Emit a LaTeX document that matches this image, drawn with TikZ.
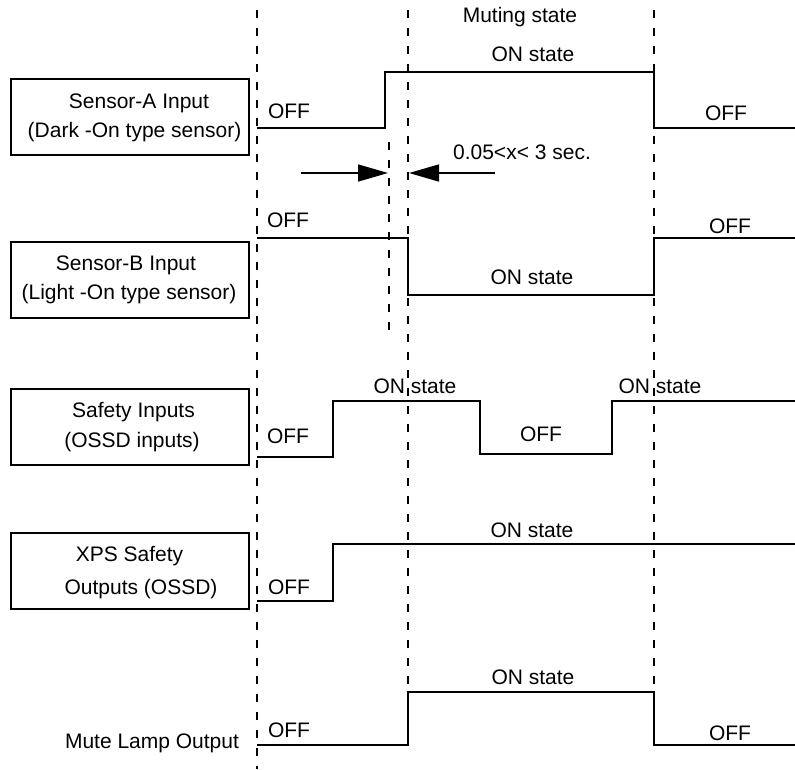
\documentclass[tikz,border=0pt]{standalone}
\usepackage{fontspec}
\setmainfont{Liberation Sans}
\usetikzlibrary{arrows.meta}
\begin{document}
\begin{tikzpicture}[x=1pt,y=-1pt,
  txt/.style={font=\fontsize{21}{25}\selectfont, inner sep=0pt, anchor=base},
  sig/.style={line width=2pt, line join=miter},
  guide/.style={line width=2pt, dash pattern=on 8pt off 10pt},
  lbox/.style={draw, line width=2pt, minimum width=238pt, minimum height=76pt, inner sep=0pt},
  arr/.style={line width=1.5pt, -{Triangle[length=30pt,width=17pt]}}]
\useasboundingbox (0,0) rectangle (795,769);

% guide lines
\draw[guide] (257,10) -- (257,769);
\draw[guide] (408,10) -- (408,692);
\draw[guide] (654,10) -- (654,692);
\draw[guide] (389,142) -- (389,338);

% label boxes
\node[lbox] (boxA) at (130,117) {};
\node[lbox] (boxB) at (130,280) {};
\node[lbox] (boxS) at (130,427) {};
\node[lbox] (boxX) at (130,570.5) {};

\node[txt] (tA1) at (139,108) {Sensor-A Input};
\node[txt] (tA2) at (134.5,137) {(Dark -On type sensor)};
\node[txt] (tB1) at (126,270) {Sensor-B Input};
\node[txt] (tB2) at (129,299) {(Light -On type sensor)};
\node[txt] (tS1) at (133.5,417) {Safety Inputs};
\node[txt] (tS2) at (132,447) {(OSSD inputs)};
\node[txt] (tX1) at (129.5,561) {XPS Safety};
\node[txt] (tX2) at (141,594) {Outputs (OSSD)};
\node[txt] (tM) at (152,748) {Mute Lamp Output};

\node[txt] (mute) at (520,22) {Muting state};

% Sensor-A
\draw[sig] (257,128) -- (385,128) -- (385,72) -- (654,72) -- (654,128) -- (795,128);
\node[txt] (a1) at (289,118) {OFF};
\node[txt] (a2) at (533,61) {ON state};
\node[txt] (a3) at (726,120) {OFF};

% timing arrows
\coordinate (l1) at (301,173);
\coordinate (l2) at (388,173);
\coordinate (r1) at (495,173);
\coordinate (r2) at (409,173);
\draw[arr] (l1) -- (l2);
\draw[arr] (r1) -- (r2);
\node[txt] (tx) at (522,159) {0.05<x< 3 sec.};

% Sensor-B
\draw[sig] (257,238) -- (408,238) -- (408,295) -- (654,295) -- (654,238) -- (795,238);
\node[txt] (b1) at (288,227) {OFF};
\node[txt] (b2) at (532,284) {ON state};
\node[txt] (b3) at (730,233) {OFF};

% Safety inputs
\draw[sig] (257,457) -- (333,457) -- (333,401) -- (480,401) -- (480,454) -- (612,454) -- (612,401) -- (795,401);
\node[txt] (s1) at (288,443) {OFF};
\node[txt] (s2) at (415,393) {ON state};
\node[txt] (s3) at (541,441) {OFF};
\node[txt] (s4) at (660,393) {ON state};

% XPS outputs
\draw[sig] (257,601) -- (333,601) -- (333,544) -- (795,544);
\node[txt] (x1) at (289,594) {OFF};
\node[txt] (x2) at (532,537) {ON state};

% Mute lamp
\draw[sig] (257,745) -- (408,745) -- (408,692) -- (654,692) -- (654,745) -- (795,745);
\node[txt] (m1) at (289,737) {OFF};
\node[txt] (m2) at (533,684) {ON state};
\node[txt] (m3) at (730,740) {OFF};
\end{tikzpicture}
\end{document}
